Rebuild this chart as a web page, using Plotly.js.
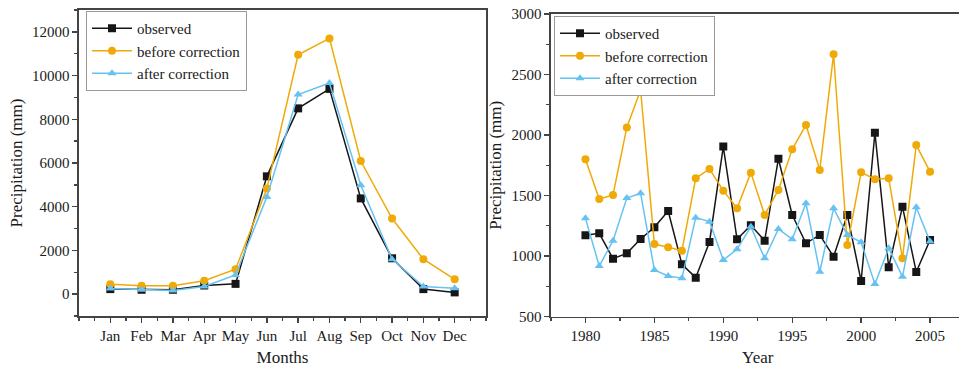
<!DOCTYPE html>
<html><head><meta charset="utf-8">
<script src="https://cdn.plot.ly/plotly-3.0.1.min.js"></script>
<style>html,body{margin:0;padding:0;overflow:hidden;background:#fff}#c{width:966px;height:367px}</style>
</head><body><div id="c"></div>
<script>
const months = ['Jan','Feb','Mar','Apr','May','Jun','Jul','Aug','Sep','Oct','Nov','Dec'];
const monthObserved = [230, 200, 200, 395, 470, 5390, 8500, 9390, 4380, 1640, 230, 80];
const monthBefore   = [455, 380, 380, 610, 1140, 4830, 10950, 11700, 6090, 3460, 1600, 680];
const monthAfter    = [260, 200, 170, 350, 880, 4450, 9130, 9660, 4980, 1600, 350, 270];

const years = [1980,1981,1982,1983,1984,1985,1986,1987,1988,1989,1990,1991,1992,1993,1994,1995,1996,1997,1998,1999,2000,2001,2002,2003,2004,2005];
const yearObserved = [1172,1187,978,1022,1141,1237,1372,931,821,1116,1904,1138,1254,1127,1804,1339,1105,1174,994,1339,793,2019,907,1408,868,1132];
const yearBefore   = [1799,1471,1504,2063,2372,1099,1072,1044,1642,1719,1540,1394,1689,1339,1546,1882,2083,1711,2667,1091,1692,1634,1642,981,1917,1697];
const yearAfter    = [1311,917,1127,1479,1518,884,835,816,1317,1284,967,1055,1242,981,1223,1138,1436,870,1394,1174,1113,769,1064,829,1403,1119];

const names = ['observed','before correction','after correction'];
const colors = ['#161616','#f0aa08','#66c2f2'];
const symbols = ['square','circle','triangle-up'];

const W = 966;
const monthIdx = months.map((m,i)=>i+1);
const traces = [];
[monthObserved, monthBefore, monthAfter].forEach((arr,k)=>{
  traces.push({x: monthIdx, y: arr, name: names[k], type:'scatter', mode:'lines+markers',
    line:{color:colors[k], width:1.5}, marker:{symbol:symbols[k], size:8, color:colors[k]},
    xaxis:'x', yaxis:'y', legend:'legend'});
});
[yearObserved, yearBefore, yearAfter].forEach((arr,k)=>{
  traces.push({x: years, y: arr, name: names[k], type:'scatter', mode:'lines+markers',
    line:{color:colors[k], width:1.5}, marker:{symbol:symbols[k], size:8, color:colors[k]},
    xaxis:'x2', yaxis:'y2', legend:'legend2'});
});

const fam = 'Liberation Serif, Times New Roman, serif';
const font = {family:fam, color:'#1a1a1a', size:15};
const titleFont = {family:fam, size:17, color:'#1a1a1a'};
const axBase = {showline:true, linecolor:'#444', linewidth:1.6, mirror:true, showgrid:false, zeroline:false,
  ticks:'outside', ticklen:5, tickcolor:'#444', tickwidth:1.3, tickfont:{family:fam, size:15, color:'#1a1a1a'},
  automargin:false, tickformat:'d'};

const layout = {
  width: W, height: 367, margin:{l:0,r:0,t:0,b:0},
  paper_bgcolor:'#fff', plot_bgcolor:'#fff', font: font, showlegend:true,
  xaxis: Object.assign({}, axBase, {domain:[79/W, 486/W], range:[0,13], tickvals: monthIdx, ticktext: months,
    minor:{dtick:0.5, tick0:0, ticks:'outside', ticklen:3, tickcolor:'#444'},
    title:{text:'Months', font:titleFont, standoff:8}, anchor:'y'}),
  yaxis: Object.assign({}, axBase, {domain:[1-316/367, 1-10/367], range:[-1000,13000], tickvals:[0,2000,4000,6000,8000,10000,12000],
    minor:{dtick:1000, ticks:'outside', ticklen:3, tickcolor:'#444'},
    title:{text:'Precipitation (mm)', font:titleFont, standoff:5}, anchor:'x'}),
  xaxis2: Object.assign({}, axBase, {domain:[551/W, 964.5/W], range:[1977.5,2007.5], tickvals:[1980,1985,1990,1995,2000,2005],
    minor:{dtick:2.5, tick0:1977.5, ticks:'outside', ticklen:3, tickcolor:'#444'},
    title:{text:'Year', font:titleFont, standoff:8}, anchor:'y2'}),
  yaxis2: Object.assign({}, axBase, {domain:[1-316.5/367, 1-14/367], range:[500,3000], tickvals:[500,1000,1500,2000,2500,3000],
    minor:{dtick:250, ticks:'outside', ticklen:3, tickcolor:'#444'},
    title:{text:'Precipitation (mm)', font:titleFont, standoff:5}, anchor:'x2'}),
  legend: {x:86/W, y:1-11/367, xanchor:'left', yanchor:'top', bgcolor:'#fff', bordercolor:'#999', borderwidth:1,
    font:{family:fam, size:15, color:'#1a1a1a'}, tracegroupgap:0, itemwidth:40},
  legend2: {x:554/W, y:1-16/367, xanchor:'left', yanchor:'top', bgcolor:'#fff', bordercolor:'#999', borderwidth:1,
    font:{family:fam, size:15, color:'#1a1a1a'}, tracegroupgap:0, itemwidth:40}
};
Plotly.newPlot('c', traces, layout, {displayModeBar:false, staticPlot:true});
</script></body></html>
